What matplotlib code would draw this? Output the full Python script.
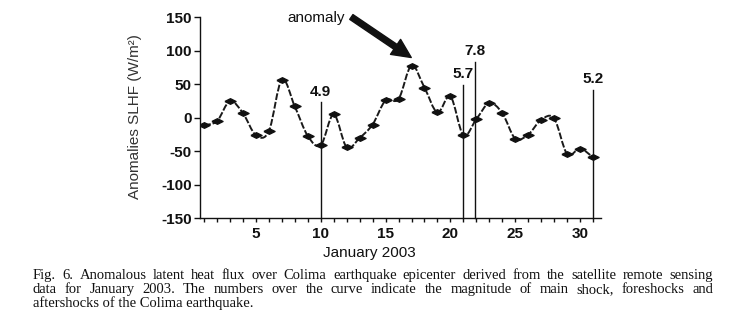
import numpy as np
import matplotlib
matplotlib.use("Agg")
import matplotlib.pyplot as plt
from matplotlib.path import Path
from matplotlib.patches import PathPatch

# ---------------- data ----------------
days = list(range(1, 32))
slhf = [-11, -5, 25, 7, -26, -20, 57, 17, -27, -41, 5, -44, -30, -10, 26,
        28, 78, 45, 8, 32, -26, -2, 22, 7, -31, -25, -3, -1, -54, -46, -59]
quake_days = [10, 20.95, 21.9, 31]
quake_mags = ["4.9", "5.7", "7.8", "5.2"]
quake_tops = [23, 49, 84, 42]
xtick_labels = [5, 10, 15, 20, 25, 30]
ytick_vals = [-150, -100, -50, 0, 50, 100, 150]

caption_lines = [
    "Fig. 6. Anomalous latent heat flux over Colima earthquake epicenter derived from the satellite remote sensing",
    "data for January 2003. The numbers over the curve indicate the magnitude of main shock, foreshocks and",
    "aftershocks of the Colima earthquake.",
]

W, H = 734, 332
plt.rcParams["font.family"] = ["Liberation Sans", "DejaVu Sans"]

fig = plt.figure(figsize=(W / 100, H / 100), dpi=100)
fig.patch.set_facecolor("white")
ax = fig.add_axes([200 / W, 1 - 218.3 / H, 400.7 / W, 201 / H])
ax.set_xlim(0.69, 31.59)
ax.set_ylim(-150, 150)

# smooth curve through the points (Catmull-Rom as cubic Bezier path)
P = np.column_stack([days, slhf]).astype(float)
n = len(P)
verts = [tuple(P[0])]
codes = [Path.MOVETO]
for i in range(n - 1):
    p0 = P[i - 1] if i > 0 else P[i]
    p1 = P[i]
    p2 = P[i + 1]
    p3 = P[i + 2] if i + 2 < n else P[i + 1]
    c1 = p1 + (p2 - p0) / 6.0
    c2 = p2 - (p3 - p1) / 6.0
    verts += [tuple(c1), tuple(c2), tuple(p2)]
    codes += [Path.CURVE4] * 3
ax.add_patch(PathPatch(Path(verts, codes), fill=False, edgecolor="#1a1a1a",
                       lw=1.4, linestyle=(0, (3.5, 1.0))))

diamond = [(-1, 0), (0, 0.5), (1, 0), (0, -0.5), (-1, 0)]
ax.plot(days, slhf, linestyle="none", marker=diamond, markersize=8,
        color="#111111", zorder=3)

# earthquake lines and magnitudes
for xq, mag, top in zip(quake_days, quake_mags, quake_tops):
    ax.plot([xq, xq], [-150, top], color="#111111", lw=1.0, clip_on=False)
    ax.annotate(mag, (xq, top), xytext=(0, 2.5), textcoords="offset points",
                ha="center", va="bottom", fontsize=11, fontweight="bold",
                color="#111111")

# anomaly arrow
ax.annotate("", xy=(16.98, 90), xytext=(12.36, 150.5),
            arrowprops=dict(arrowstyle="simple,tail_width=0.32,head_width=1.0,head_length=1.05",
                            mutation_scale=13, color="#111111", shrinkA=0, shrinkB=0),
            annotation_clip=False)
ax.text(11.85, 149, "anomaly", ha="right", va="center", fontsize=11,
        color="#111111", clip_on=False)

# axes styling
for s in ("top", "right"):
    ax.spines[s].set_visible(False)
for s in ("left", "bottom"):
    ax.spines[s].set_linewidth(1.0)
    ax.spines[s].set_color("#111111")

ax.set_xticks(xtick_labels)
ax.set_xticklabels([str(v) for v in xtick_labels])
ax.set_xticks(days, minor=True)
ax.set_yticks(ytick_vals)
ax.set_yticklabels([str(v) for v in ytick_vals])
ax.tick_params(axis="x", which="both", direction="out", length=2.6, width=1.0,
               pad=3.4, labelsize=11, colors="#111111")
ax.tick_params(axis="y", which="major", direction="out", length=4.4, width=1.0,
               pad=1.6, labelsize=11, colors="#111111")
for lbl in ax.get_xticklabels() + ax.get_yticklabels():
    lbl.set_fontweight("bold")

fig.text(135 / W, 1 - 116.5 / H, "Anomalies SLHF (W/m²)", rotation=90,
         ha="center", va="center", fontsize=11, color="#333333")
fig.text(369 / W, 1 - 252.5 / H, "January 2003", ha="center", va="center",
         fontsize=11, color="#111111")

# caption, justified
renderer = fig.canvas.get_renderer()
cap_kw = dict(family=["Liberation Serif", "DejaVu Serif"], fontsize=10.5,
              color="#111111", va="baseline", ha="left")
x0, x1 = 32.7, 713.0
baselines = [279.3, 293.0, 306.7]
for k, (line, yb) in enumerate(zip(caption_lines, baselines)):
    yf = 1 - yb / H
    if k < 2:
        words = line.split()
        objs = [fig.text(0, yf, w, **cap_kw) for w in words]
        widths = [o.get_window_extent(renderer).width for o in objs]
        gap = (x1 - x0 - sum(widths)) / (len(words) - 1)
        x = x0
        for o, w in zip(objs, widths):
            o.set_x(x / W)
            x += w + gap
    else:
        fig.text(x0 / W, yf, line, **cap_kw)

fig.savefig("out.png", dpi=100, facecolor="white")
